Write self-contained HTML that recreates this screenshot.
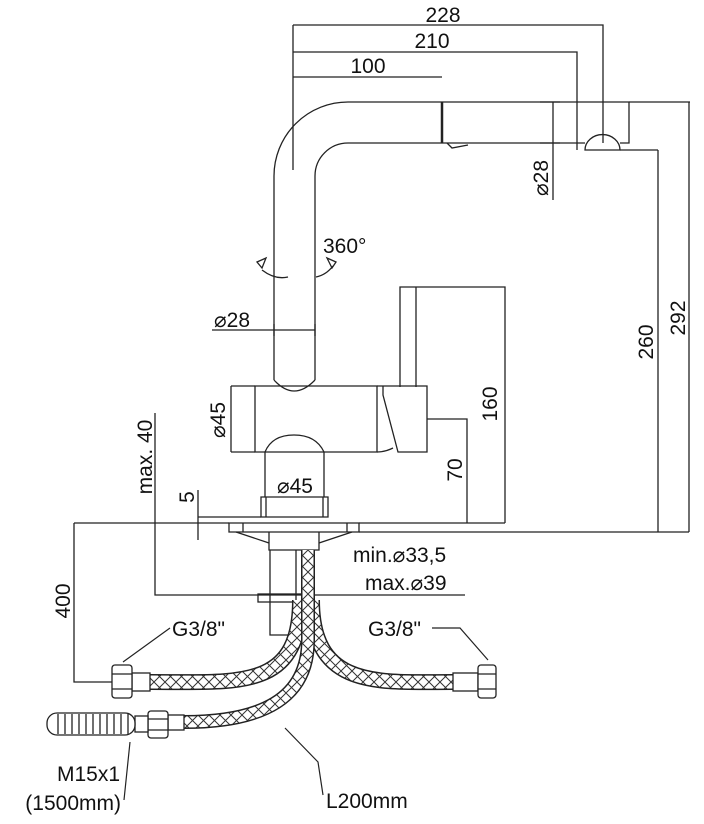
<!DOCTYPE html>
<html><head><meta charset="utf-8"><style>
html,body{margin:0;padding:0;background:#fff;}
svg{display:block}
text{font-family:"Liberation Sans Narrow","Liberation Sans",sans-serif;font-size:21px;fill:#111}
</style></head><body>
<svg width="704" height="824" viewBox="0 0 704 824" xmlns="http://www.w3.org/2000/svg">
<defs>
<pattern id="h" width="11" height="11" patternUnits="userSpaceOnUse">
<rect width="11" height="11" fill="#fff"/>
<path d="M0 0L11 11M11 0L0 11" stroke="#333" stroke-width="1"/>
</pattern>
</defs>
<g fill="none" stroke="#222" stroke-width="1.3">
<path d="M274 380 V176 A74 74 0 0 1 348 102 H629 V143 H620"/>
<path d="M315 380 V176 A33 33 0 0 1 348 143 H585"/>
<path d="M585 150 A17 15 0 0 1 620 150 Z" />
<path d="M442 102 V143" stroke-width="2.5"/>
<path d="M447 143 L452 148 L468 145"/>
<path d="M274 380 Q294 402 315 380"/>
<path d="M293 25 H603 V143 M293 52 H577 V150 M293 77 H442 M293 25 V170 M620 150 H658 M629 102 H690"/>
<path d="M553 102 V200 M540 102 H560 M540 143 H560"/>
<path d="M658 150 V532 M689 102 V532"/>
<path d="M262 270 Q275 280 288 277 M316 277 Q326 275 333 266"/>
<path d="M257 262 L266 258 L262 268 Z M336 262 L327 258 L332 268 Z"/>
<path d="M212 330 H315 M274 324 V336 M315 324 V336"/>
<path d="M255 386 H377 V452 H255 Z"/>
<path d="M231 386 H255 M231 452 H255 M231 386 V452"/>
<path d="M265 497 V452 Q272 435 294 435 Q316 435 324 452 V497"/>
<path d="M377 386 H383 V395 L398 452 H427 V386 H383 M377 452 Q385 452 393 448"/>
<path d="M400 387 V287 H416 V387 M416 287 H505 V523 M427 419 H467 V523"/>
<path d="M261 497 H328 V517 H261 Z M266 497 V517 M323 497 V517"/>
<path d="M74 523 H229 M359 523 H505 M359 532 H689"/>
<path d="M229 523 H359 V532 H229 Z M243 523 V532 M347 523 V532"/>
<path d="M236 532 L269 543 M352 532 L319 543"/>
<path d="M269 532 V550 H319 V532"/>
<path d="M198 490 V540 M198 517 H261 M155 413 V595 H465"/>
<path d="M74 523 V682 H112"/>
<path d="M270 550 V635 H296 V550"/>
<rect x="258" y="594" width="56" height="8"/>
</g>
<g fill="none">
<path d="M300 600 C300 690 240 682 150 682" stroke="#222" stroke-width="16"/>
<path d="M300 600 C300 690 240 682 150 682" stroke="url(#h)" stroke-width="13"/>
<path d="M312 600 C312 690 380 682 453 682" stroke="#222" stroke-width="16"/>
<path d="M312 600 C312 690 380 682 453 682" stroke="url(#h)" stroke-width="13"/>
<path d="M308 550 V640 C308 700 260 722 184 722" stroke="#222" stroke-width="14"/>
<path d="M308 550 V640 C308 700 260 722 184 722" stroke="url(#h)" stroke-width="11"/>
</g>
<g fill="#fff" stroke="#222" stroke-width="1.3">
<rect x="132" y="673" width="18" height="18"/>
<rect x="112" y="665" width="20" height="33" rx="3"/>
<path d="M112 674 H132 M112 689 H132"/>
<rect x="453" y="673" width="25" height="18"/>
<rect x="478" y="665" width="18" height="33" rx="3"/>
<path d="M478 674 H496 M478 689 H496"/>
<rect x="168" y="715" width="16" height="15"/>
<rect x="148" y="711" width="20" height="27" rx="3"/>
<path d="M148 719 H168 M148 730 H168"/>
<rect x="135" y="716" width="13" height="16"/>
<rect x="47" y="713" width="88" height="22" rx="10"/>
<path d="M58 714 V734 M65 714 V734 M72 714 V734 M79 714 V734 M86 714 V734 M93 714 V734 M100 714 V734 M107 714 V734 M114 714 V734 M121 714 V734 M128 714 V734" fill="none"/>
</g>
<g fill="none" stroke="#222" stroke-width="1.2">
<path d="M170 628 L123 662 M432 628 H460 L488 660 M124 800 L130 742 M323 795 L318 762 L285 728"/>
</g>
<text x="443" y="22" text-anchor="middle">228</text>
<text x="432" y="48" text-anchor="middle">210</text>
<text x="368" y="73" text-anchor="middle">100</text>
<text x="323" y="253">360°</text>
<text x="214" y="327">⌀28</text>
<text transform="translate(548,178) rotate(-90)" text-anchor="middle">⌀28</text>
<text transform="translate(653,342) rotate(-90)" text-anchor="middle">260</text>
<text transform="translate(685,318) rotate(-90)" text-anchor="middle">292</text>
<text transform="translate(497,404) rotate(-90)" text-anchor="middle">160</text>
<text transform="translate(462,470) rotate(-90)" text-anchor="middle">70</text>
<text transform="translate(225,420) rotate(-90)" text-anchor="middle">⌀45</text>
<text x="295" y="493" text-anchor="middle">⌀45</text>
<text transform="translate(152,457) rotate(-90)" text-anchor="middle">max. 40</text>
<text transform="translate(194,497) rotate(-90)" text-anchor="middle">5</text>
<text transform="translate(70,601) rotate(-90)" text-anchor="middle">400</text>
<text x="353" y="562">min.⌀33,5</text>
<text x="365" y="590">max.⌀39</text>
<text x="172" y="636">G3/8"</text>
<text x="368" y="636">G3/8"</text>
<text x="120" y="781" text-anchor="end">M15x1</text>
<text x="121" y="810" text-anchor="end">(1500mm)</text>
<text x="326" y="808">L200mm</text>
</svg>
</body></html>
